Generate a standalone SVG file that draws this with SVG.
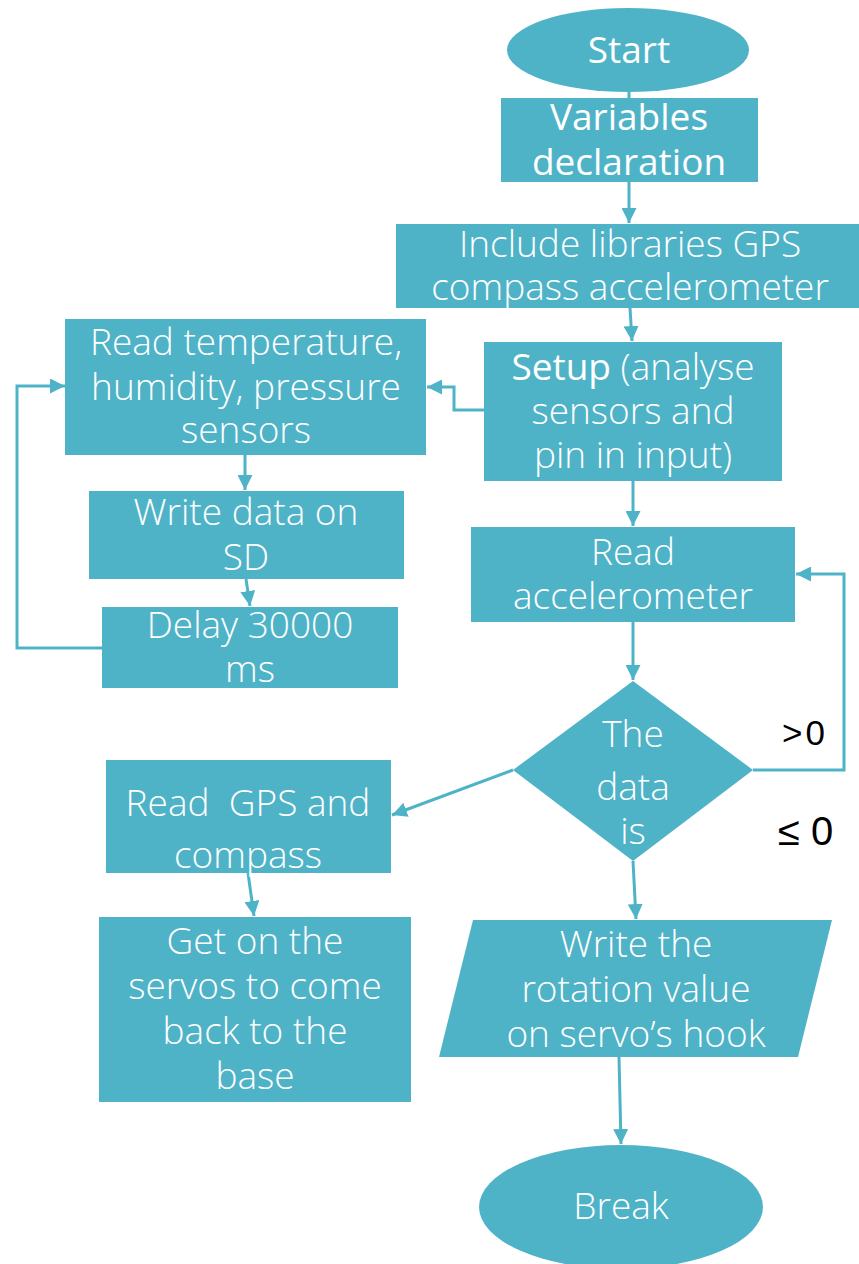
<svg xmlns="http://www.w3.org/2000/svg" width="859" height="1264" viewBox="0 0 859 1264">
<defs>
<marker id="ah" viewBox="0 0 10 10" refX="10" refY="5" markerWidth="5" markerHeight="5" markerUnits="strokeWidth" orient="auto">
<path d="M0,0 L10,5 L0,10 z" fill="#4FB3C7"/>
</marker>
<style>
.n{fill:#4FB3C7;}
.t{font-family:"Open Sans","Liberation Sans",sans-serif;font-weight:300;font-size:37px;fill:#ffffff;text-anchor:middle;white-space:pre;}
.r{font-weight:400;}
.c{fill:none;stroke:#4FB3C7;stroke-width:3;}
.lbl{font-family:"Liberation Sans",Arial,sans-serif;fill:#000000;}
</style>
</defs>
<rect width="859" height="1264" fill="#ffffff"/>
<g id="connectors">
<line class="c" x1="629" y1="90" x2="629" y2="99"/>
<line class="c" x1="629" y1="182" x2="629" y2="223" marker-end="url(#ah)"/>
<line class="c" x1="630" y1="308" x2="632" y2="341" marker-end="url(#ah)"/>
<polyline class="c" points="484,410 454,410 454,387 427,387" marker-end="url(#ah)"/>
<line class="c" x1="245" y1="455" x2="245" y2="490" marker-end="url(#ah)"/>
<line class="c" x1="246" y1="579" x2="250" y2="606" marker-end="url(#ah)"/>
<polyline class="c" points="102,648 17,648 17,386 65,386" marker-end="url(#ah)"/>
<line class="c" x1="633" y1="481" x2="633" y2="526" marker-end="url(#ah)"/>
<line class="c" x1="633" y1="622" x2="633" y2="680" marker-end="url(#ah)"/>
<polyline class="c" points="753,770 844,770 844,574 796,574" marker-end="url(#ah)"/>
<line class="c" x1="513" y1="770" x2="392" y2="815" marker-end="url(#ah)"/>
<line class="c" x1="248" y1="873" x2="254" y2="916" marker-end="url(#ah)"/>
<line class="c" x1="633" y1="861" x2="636" y2="919" marker-end="url(#ah)"/>
<line class="c" x1="619" y1="1057" x2="621" y2="1144" marker-end="url(#ah)"/>
</g>
<g id="start">
<ellipse class="n" cx="628" cy="50" rx="121" ry="42"/>
<text class="t r" x="629" y="63" font-size="38">Start</text>
</g>
<g id="variables">
<rect class="n" x="501" y="98" width="257" height="84"/>
<text class="t r" x="629" y="130" font-size="36">Variables</text>
<text class="t r" x="629" y="175" font-size="36">declaration</text>
</g>
<g id="include">
<rect class="n" x="396" y="224" width="463" height="84"/>
<text class="t" x="630" y="257">Include libraries GPS</text>
<text class="t" x="630" y="300">compass accelerometer</text>
</g>
<g id="read-sensors">
<rect class="n" x="65" y="319" width="361" height="136"/>
<text class="t" x="246" y="355">Read temperature,</text>
<text class="t" x="246" y="400">humidity, pressure</text>
<text class="t" x="246" y="443">sensors</text>
</g>
<g id="setup">
<rect class="n" x="484" y="342" width="298" height="139"/>
<text class="t" x="633" y="380"><tspan class="r">Setup</tspan> (analyse</text>
<text class="t" x="633" y="424">sensors and</text>
<text class="t" x="633" y="468">pin in input)</text>
</g>
<g id="write-sd">
<rect class="n" x="89" y="491" width="315" height="88"/>
<text class="t" x="246" y="525">Write data on</text>
<text class="t" x="246" y="570">SD</text>
</g>
<g id="delay">
<rect class="n" x="102" y="607" width="296" height="81"/>
<text class="t" x="250" y="638">Delay 30000</text>
<text class="t" x="250" y="682">ms</text>
</g>
<g id="read-accel">
<rect class="n" x="471" y="527" width="324" height="95"/>
<text class="t" x="633" y="565">Read</text>
<text class="t" x="633" y="609">accelerometer</text>
</g>
<g id="decision">
<polygon class="n" points="633,681 753,770 633,861 513,770"/>
<text class="t" x="633" y="747">The</text>
<text class="t" x="633" y="800">data</text>
<text class="t" x="633" y="844">is</text>
</g>
<text class="lbl" x="782" y="745" font-size="35" letter-spacing="3">&gt;0</text>
<text class="lbl" x="778" y="845" font-size="40">≤ 0</text>
<g id="read-gps">
<rect class="n" x="106" y="760" width="285" height="113"/>
<text class="t" x="248" y="816">Read  GPS and</text>
<text class="t" x="248" y="868">compass</text>
</g>
<g id="servos-base">
<rect class="n" x="99" y="917" width="312" height="185"/>
<text class="t" x="255" y="954">Get on the</text>
<text class="t" x="255" y="999">servos to come</text>
<text class="t" x="255" y="1044">back to the</text>
<text class="t" x="255" y="1089">base</text>
</g>
<g id="write-rotation">
<polygon class="n" points="473,920 832,920 798,1057 439,1057"/>
<text class="t" x="636" y="957">Write the</text>
<text class="t" x="636" y="1002">rotation value</text>
<text class="t" x="636" y="1047">on servo’s hook</text>
</g>
<g id="break">
<ellipse class="n" cx="621" cy="1207" rx="142" ry="62"/>
<text class="t" x="621" y="1219">Break</text>
</g>
</svg>
